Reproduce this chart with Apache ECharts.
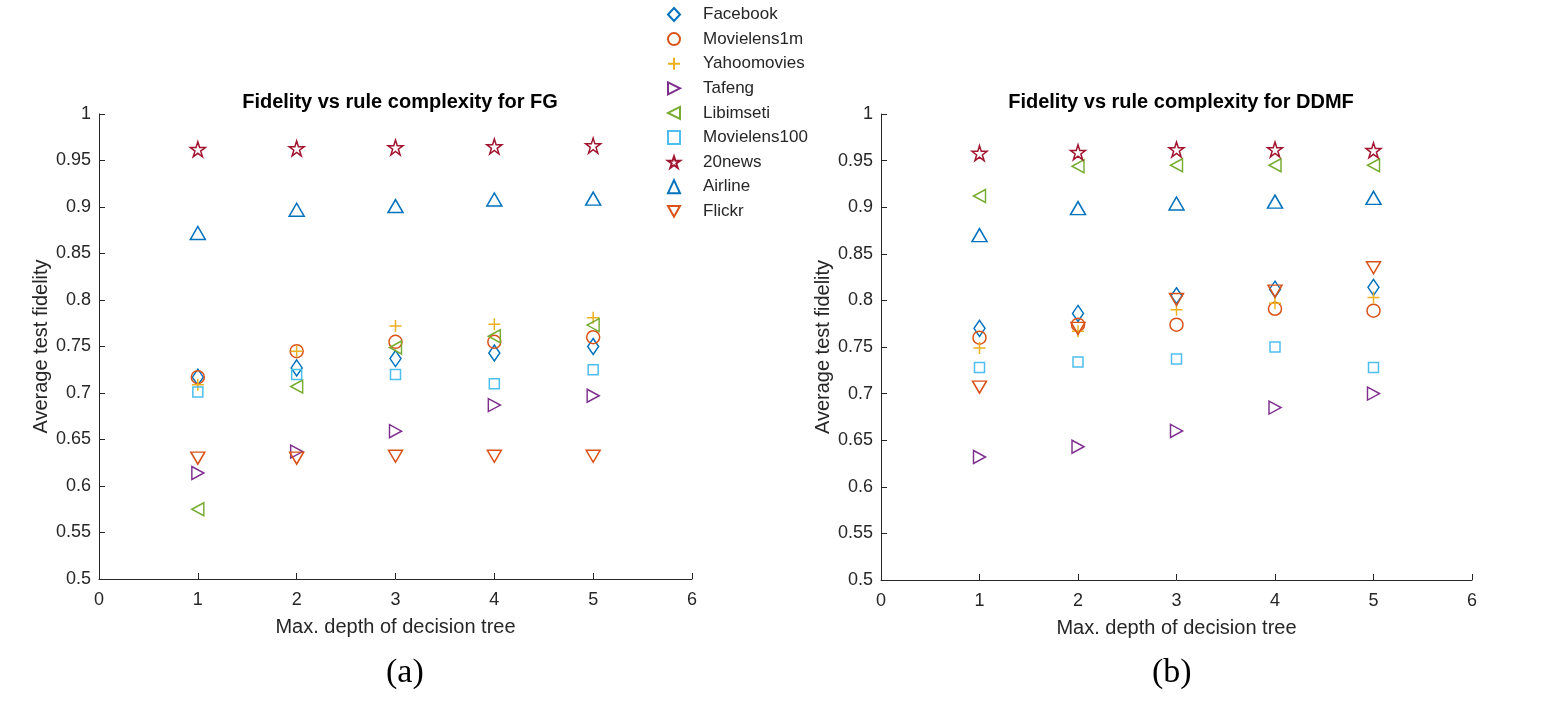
<!DOCTYPE html>
<html>
<head>
<meta charset="utf-8">
<script src="https://cdn.jsdelivr.net/npm/echarts@6/dist/echarts.min.js"></script>
<style>html,body{margin:0;padding:0;background:#fff;}#c{width:1545px;height:716px;}</style>
</head>
<body>
<div id="c"></div>
<script>
const depths = [1, 2, 3, 4, 5];
const xTicks = [0, 1, 2, 3, 4, 5, 6];
const yTicks = [0.5, 0.55, 0.6, 0.65, 0.7, 0.75, 0.8, 0.85, 0.9, 0.95, 1];
const datasetNames = ['Facebook','Movielens1m','Yahoomovies','Tafeng','Libimseti','Movielens100','20news','Airline','Flickr'];

// (a) FG
const fgFacebook     = [0.717, 0.727, 0.737, 0.743, 0.750];
const fgMovielens1m  = [0.717, 0.745, 0.755, 0.755, 0.760];
const fgYahoomovies  = [0.709, 0.745, 0.772, 0.774, 0.781];
const fgTafeng       = [0.614, 0.637, 0.659, 0.687, 0.697];
const fgLibimseti    = [0.575, 0.707, 0.749, 0.761, 0.773];
const fgMovielens100 = [0.701, 0.720, 0.720, 0.710, 0.725];
const fg20news       = [0.962, 0.963, 0.964, 0.965, 0.966];
const fgAirline      = [0.872, 0.897, 0.901, 0.908, 0.909];
const fgFlickr       = [0.630, 0.630, 0.632, 0.632, 0.632];

// (b) DDMF
const ddFacebook     = [0.770, 0.786, 0.805, 0.812, 0.814];
const ddMovielens1m  = [0.760, 0.774, 0.774, 0.791, 0.789];
const ddYahoomovies  = [0.749, 0.767, 0.790, 0.797, 0.803];
const ddTafeng       = [0.632, 0.643, 0.660, 0.685, 0.700];
const ddLibimseti    = [0.912, 0.944, 0.945, 0.945, 0.945];
const ddMovielens100 = [0.728, 0.734, 0.737, 0.750, 0.728];
const dd20news       = [0.958, 0.959, 0.962, 0.962, 0.961];
const ddAirline      = [0.870, 0.899, 0.904, 0.906, 0.910];
const ddFlickr       = [0.707, 0.770, 0.801, 0.810, 0.835];

const fgSeries = [fgFacebook, fgMovielens1m, fgYahoomovies, fgTafeng, fgLibimseti, fgMovielens100, fg20news, fgAirline, fgFlickr];
const ddSeries = [ddFacebook, ddMovielens1m, ddYahoomovies, ddTafeng, ddLibimseti, ddMovielens100, dd20news, ddAirline, ddFlickr];

const colors = ['#0072BD','#D95319','#EDB120','#7E2F8E','#77AC30','#4DBEEE','#A2142F','#0072BD','#D95319'];
const symbols = [
  'diamond',
  'circle',
  'path://M5 0L5 10M0 5L10 5',
  'path://M0 0L10 5L0 10Z',
  'path://M10 0L0 5L10 10Z',
  'rect',
  'path://M10 0L12.25 6.91L19.51 6.91L13.63 11.18L15.88 18.09L10 13.82L4.12 18.09L6.37 11.18L0.49 6.91L7.75 6.91Z',
  'triangle',
  'path://M0 0L10 0L5 9Z'
];
const sizes = [[11,16], 13, 12, [12,13], [12,13], 10, 15, [15,13], [14,12]];

const font = '"Liberation Sans", Arial, Helvetica, sans-serif';
const textColor = '#262626';

function makeAxisX(gi) {
  return {
    type: 'value', gridIndex: gi, min: 0, max: 6, interval: 1,
    name: 'Max. depth of decision tree', nameLocation: 'middle', nameGap: 38,
    nameTextStyle: { fontFamily: font, fontSize: 20, color: textColor },
    axisLine: { show: true, onZero: false, lineStyle: { color: textColor, width: 1 } },
    axisTick: { show: true, inside: true, length: 6, lineStyle: { color: textColor } },
    axisLabel: { fontFamily: font, fontSize: 18, color: textColor, margin: 12,
      formatter: v => xTicks.includes(v) ? String(v) : '' },
    splitLine: { show: false }
  };
}
function makeAxisY(gi) {
  return {
    type: 'value', gridIndex: gi, min: 0.5, max: 1, interval: 0.05,
    name: 'Average test fidelity', nameLocation: 'middle', nameGap: 48, nameRotate: 90,
    nameTextStyle: { fontFamily: font, fontSize: 20, color: textColor },
    axisLine: { show: true, onZero: false, lineStyle: { color: textColor, width: 1 } },
    axisTick: { show: true, inside: true, length: 6, lineStyle: { color: textColor } },
    axisLabel: { fontFamily: font, fontSize: 18, color: textColor, margin: 8,
      formatter: v => { const t = yTicks.find(y => Math.abs(y - v) < 1e-9); return t === undefined ? '' : String(t); } },
    splitLine: { show: false }
  };
}

const series = [];
[fgSeries, ddSeries].forEach((group, gi) => {
  group.forEach((vals, i) => {
    series.push({
      name: datasetNames[i], type: 'scatter', xAxisIndex: gi, yAxisIndex: gi,
      symbol: symbols[i], symbolSize: sizes[i],
      itemStyle: { color: 'rgba(255,255,255,0)', borderColor: colors[i], borderWidth: 1.5, opacity: 1 },
      emphasis: { disabled: true },
      data: depths.map((d, k) => [d, vals[k]])
    });
  });
});

const chart = echarts.init(document.getElementById('c'), null, { renderer: 'canvas' });
chart.setOption({
  backgroundColor: '#fff',
  animation: false,
  title: [
    { text: 'Fidelity vs rule complexity for FG', left: 395, top: 87, textAlign: 'center',
      textStyle: { fontFamily: font, fontSize: 20, fontWeight: 'bold', color: '#000' } },
    { text: 'Fidelity vs rule complexity for DDMF', left: 1176, top: 87, textAlign: 'center',
      textStyle: { fontFamily: font, fontSize: 20, fontWeight: 'bold', color: '#000' } }
  ],
  legend: {
    orient: 'vertical', left: 662, top: 1, itemWidth: 12, itemHeight: 13, itemGap: 7.6,
    textStyle: { fontFamily: font, fontSize: 17, color: textColor, padding: [0,0,0,18] },
    data: datasetNames
  },
  grid: [
    { left: 99, top: 114, width: 593, height: 465 },
    { left: 881, top: 114, width: 591, height: 466 }
  ],
  xAxis: [makeAxisX(0), makeAxisX(1)],
  yAxis: [makeAxisY(0), makeAxisY(1)],
  graphic: [
    { type: 'text', left: 386, top: 656, style: { text: '(a)', fontFamily: '"Liberation Serif", "Times New Roman", serif', fontSize: 34, fill: '#000' } },
    { type: 'text', left: 1152, top: 656, style: { text: '(b)', fontFamily: '"Liberation Serif", "Times New Roman", serif', fontSize: 34, fill: '#000' } }
  ],
  series: series
});
</script>
</body>
</html>
